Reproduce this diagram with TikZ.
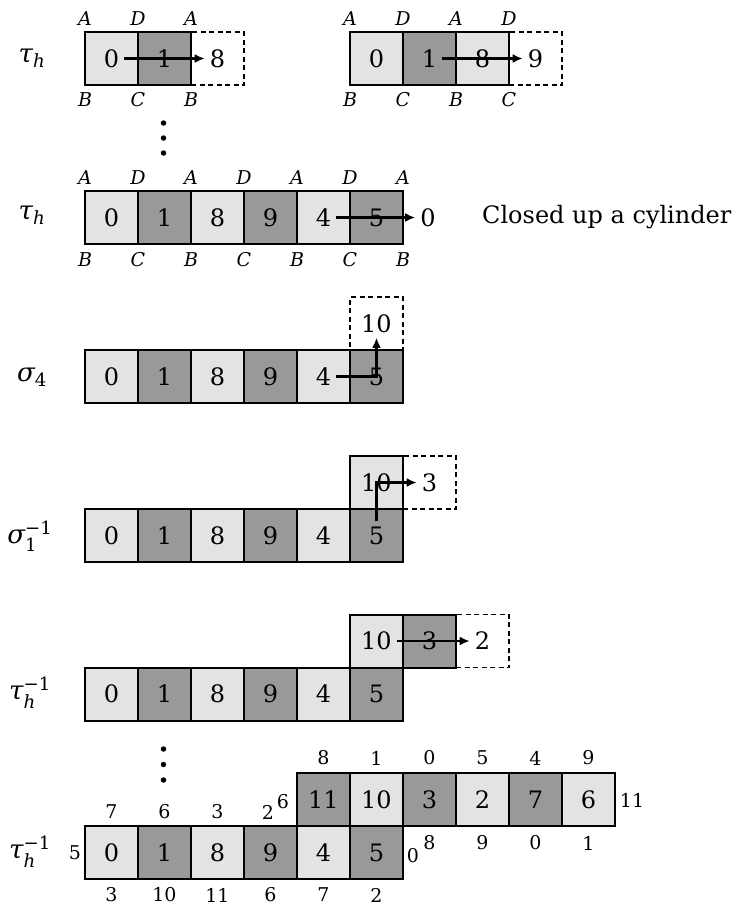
\documentclass[tikz,border=0pt]{standalone}
\usepackage{fontspec}
\usepackage{amsmath}
\setmainfont{DejaVu Serif}
\usetikzlibrary{arrows.meta}
\definecolor{lightcell}{gray}{0.89}
\definecolor{darkcell}{gray}{0.6}
\newcommand{\mkcell}[4]{\node[#1] (#2) at (#3) {}; \node[num] (#2t) at (#2) {#4};}
\begin{document}
\begin{tikzpicture}[x=1pt,y=-1pt,
 cell/.style={draw=black, line width=2pt, minimum width=53pt, minimum height=53pt, inner sep=0pt, outer sep=0pt},
 lt/.style={cell, fill=lightcell}, dk/.style={cell, fill=darkcell},
 ghost/.style={draw=black, line width=1.7pt, dash pattern=on 5pt off 3.5pt, minimum width=53pt, minimum height=53pt, inner sep=0pt, outer sep=0pt},
 num/.style={font=\fontsize{24}{28}\selectfont, inner sep=5pt},
 corner/.style={font=\fontsize{19}{22}\selectfont\itshape, inner sep=0pt},
 small/.style={font=\fontsize{19}{22}\selectfont, inner sep=0pt},
 op/.style={font=\fontsize{26}{30}\selectfont, inner sep=0pt},
 arr/.style={line width=2.3pt, -{Latex[length=10pt,width=9pt]}},
 dot/.style={circle, fill=black, inner sep=0pt, minimum size=5.5pt},
]
\useasboundingbox (0,0) rectangle (735,906);

% ---------- Row 1 left ----------
\node[op] (op1) at (32,58) {$\textit{τ}_{\textit{h}}$};
\mkcell{ghost}{ac}{217.5,58.5}{8}
\mkcell{lt}{aa}{111.5,58.5}{0}
\mkcell{dk}{ab}{164.5,58.5}{1}
\draw[arr] (aat) -- (act);
\foreach \x/\t in {85/A,138/D,191/A} \node[corner] at (\x,19) {\t};
\foreach \x/\t in {85/B,138/C,191/B} \node[corner] at (\x,100) {\t};

% ---------- Row 1 right ----------
\mkcell{ghost}{bd}{535.5,58.5}{9}
\mkcell{lt}{ba}{376.5,58.5}{0}
\mkcell{dk}{bb}{429.5,58.5}{1}
\mkcell{lt}{bc}{482.5,58.5}{8}
\draw[arr] (bbt) -- (bdt);
\foreach \x/\t in {350/A,403/D,456/A,509/D} \node[corner] at (\x,19) {\t};
\foreach \x/\t in {350/B,403/C,456/B,509/C} \node[corner] at (\x,100) {\t};

\node[dot] (d1) at (163.5,123) {};
\node[dot] (d2) at (163.5,138) {};
\node[dot] (d3) at (163.5,153) {};

% ---------- Row 2 ----------
\node[op] (op2) at (32,215) {$\textit{τ}_{\textit{h}}$};
\mkcell{lt}{ca}{111.5,217.5}{0}
\mkcell{dk}{cb}{164.5,217.5}{1}
\mkcell{lt}{cc}{217.5,217.5}{8}
\mkcell{dk}{cd}{270.5,217.5}{9}
\mkcell{lt}{ce}{323.5,217.5}{4}
\mkcell{dk}{cf}{376.5,217.5}{5}
\node[num] (cz) at (428,217.5) {0};
\draw[arr] (cet) -- (cz);
\foreach \x/\t in {85/A,138/D,191/A,244/D,297/A,350/D,403/A} \node[corner] at (\x,178) {\t};
\foreach \x/\t in {85/B,138/C,191/B,244/C,297/B,350/C,403/B} \node[corner] at (\x,260) {\t};
\node[op, font=\fontsize{24}{28}\selectfont, anchor=west] (cyl) at (482,217.5) {Closed up a cylinder};

% ---------- Row 3 ----------
\node[op] (op3) at (32,377) {$\textit{σ}_{\text{4}}$};
\mkcell{ghost}{dg}{376.5,323.5}{10}
\mkcell{lt}{da}{111.5,376.5}{0}
\mkcell{dk}{db}{164.5,376.5}{1}
\mkcell{lt}{dc}{217.5,376.5}{8}
\mkcell{dk}{dd}{270.5,376.5}{9}
\mkcell{lt}{de}{323.5,376.5}{4}
\mkcell{dk}{df}{376.5,376.5}{5}
\draw[arr] (det.east) -| (dgt.south);

% ---------- Row 4 ----------
\node[op] (op4) at (30,536) {$\textit{σ}_{\text{1}}^{\text{−1}}$};
\mkcell{ghost}{eh}{429.5,482.5}{3}
\mkcell{lt}{ea}{111.5,535.5}{0}
\mkcell{dk}{eb}{164.5,535.5}{1}
\mkcell{lt}{ec}{217.5,535.5}{8}
\mkcell{dk}{ed}{270.5,535.5}{9}
\mkcell{lt}{ee}{323.5,535.5}{4}
\mkcell{dk}{ef}{376.5,535.5}{5}
\mkcell{lt}{eg}{376.5,482.5}{10}
\draw[arr] (eft.north) |- (eht.west);

% ---------- Row 5 ----------
\node[op] (op5) at (30,693) {$\textit{τ}_{\textit{h}}^{\text{−1}}$};
\mkcell{ghost}{fi}{482.5,641}{2}
\mkcell{lt}{fa}{111.5,694}{0}
\mkcell{dk}{fb}{164.5,694}{1}
\mkcell{lt}{fc}{217.5,694}{8}
\mkcell{dk}{fd}{270.5,694}{9}
\mkcell{lt}{fe}{323.5,694}{4}
\mkcell{dk}{ff}{376.5,694}{5}
\mkcell{lt}{fg}{376.5,641}{10}
\mkcell{dk}{fh}{429.5,641}{3}
\draw[arr] (fgt) -- (fit);

\node[dot] (d4) at (163.5,749) {};
\node[dot] (d5) at (163.5,764.5) {};
\node[dot] (d6) at (163.5,780) {};

% ---------- Row 6 ----------
\node[op] (op6) at (30,852) {$\textit{τ}_{\textit{h}}^{\text{−1}}$};
\mkcell{lt}{ga}{111.5,852.5}{0}
\mkcell{dk}{gb}{164.5,852.5}{1}
\mkcell{lt}{gc}{217.5,852.5}{8}
\mkcell{dk}{gd}{270.5,852.5}{9}
\mkcell{lt}{ge}{323.5,852.5}{4}
\mkcell{dk}{gf}{376.5,852.5}{5}
\mkcell{dk}{ha}{323.5,799.5}{11}
\mkcell{lt}{hb}{376.5,799.5}{10}
\mkcell{dk}{hc}{429.5,799.5}{3}
\mkcell{lt}{hd}{482.5,799.5}{2}
\mkcell{dk}{he}{535.5,799.5}{7}
\mkcell{lt}{hf}{588.5,799.5}{6}
\foreach \x/\t in {111.5/7,164.5/6,217.5/3,268/2} \node[small] at (\x,812) {\t};
\foreach \x/\t in {111.5/3,164.5/10,217.5/11,270.5/6,323.5/7,376.5/2} \node[small] at (\x,895) {\t};
\foreach \x/\t in {323.5/8,376.5/1,429.5/0,482.5/5,535.5/4,588.5/9} \node[small] at (\x,758) {\t};
\foreach \x/\t in {429.5/8,482.5/9,535.5/0,588.5/1} \node[small] at (\x,843) {\t};
\node[small] at (283,802) {6};
\node[small] at (75,853) {5};
\node[small] at (413,856) {0};
\node[small] at (632,800) {11};
\end{tikzpicture}
\end{document}
